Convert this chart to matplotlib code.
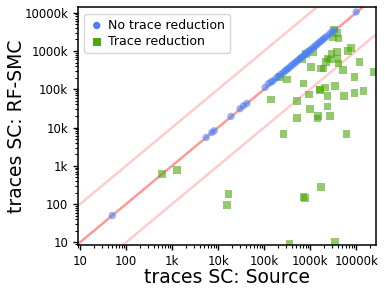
import numpy as np
import matplotlib
matplotlib.use("Agg")
import matplotlib.pyplot as plt
from matplotlib.ticker import FixedLocator, FuncFormatter, NullFormatter

# points where no reduction happened (source ~ rf-smc)
blue_x = [50, 5500, 7300, 8200, 19000, 30000, 35500, 42100, 105000, 124000,
          142000, 154500, 182000, 204600, 230700, 259000, 286000, 308000,
          337500, 367000, 400000, 437700, 472000, 514000, 557000, 606000,
          660000, 715000, 778000, 847000, 905000, 975000, 1051000, 1180000,
          1285000, 1384000, 1515000, 1648000, 1795000, 1945000, 2118000,
          2342000, 2723000, 3010000, 3325000, 10000000]
blue_y = [50, 5500, 7400, 8200, 19500, 31000, 36900, 42600, 112000, 140000,
          155000, 165000, 195000, 215000, 245000, 270000, 300000, 325000,
          350000, 385000, 420000, 460000, 495000, 540000, 585000, 640000,
          690000, 750000, 820000, 890000, 950000, 1030000, 1100000, 1240000,
          1350000, 1450000, 1600000, 1730000, 1890000, 2050000, 2230000,
          2460000, 2870000, 3170000, 3500000, 10500000]

# points with trace reduction
green_x = [610, 1260, 16900, 15500, 715000, 780000, 1700000, 355000, 3500000,
           142000, 514000, 951000, 1625000, 2377000, 5400000, 9190000, 14400000,
           1000000, 2377000, 514000, 1470000, 1442000, 2680000, 263000, 6150000,
           3330000, 3805000, 3110000, 4120000, 7780000, 6700000, 3800000,
           2905000, 2377000, 2630000, 2190000, 3800000, 11800000, 1180000,
           806000, 660000, 1035000, 1710000, 1945000, 5140000, 23800000,
           9190000, 223000, 311000, 715000, 3490000, 2118000, 1650000, 4120000]
green_y = [607, 773, 182, 94, 150, 144, 283, 9.4, 10.2,
           54200, 48900, 73100, 94900, 67300, 67300, 80600, 89100,
           30800, 35600, 17900, 20200, 17300, 20200, 6730, 6730,
           3640000, 2917000, 2250000, 2120000, 1205000, 988000, 931000,
           825000, 637000, 600000, 519000, 611000, 519000, 949000,
           825000, 600000, 384000, 349000, 349000, 315000, 285000,
           211000, 211000, 180000, 142000, 123000, 111000, 98800, 471000]

major_ticks = [10, 100, 1e3, 1e4, 1e5, 1e6, 1e7]

blue = '#4a80f7'
green = '#4ca80c'


def kfmt(v, pos):
    if v >= 1000:
        return '%dk' % round(v / 1000)
    return '%d' % round(v)


fig = plt.figure(figsize=(3.85, 2.94), dpi=100)
ax = fig.add_axes([0.2026, 0.1667, 0.774, 0.8078])

line = np.array([1, 1e9])
ax.plot(line, line, color='#ff5555', alpha=0.6, lw=1.8, zorder=1)
ax.plot(line, line * 10, color='#ff8080', alpha=0.4, lw=1.8, zorder=1)
ax.plot(line, line / 10, color='#ff8080', alpha=0.4, lw=1.8, zorder=1)

ax.scatter(blue_x, blue_y, s=28, marker='o', color=blue, alpha=0.6,
           edgecolors='none', label='No trace reduction', zorder=3)
ax.scatter(green_x, green_y, s=30, marker='s', color=green, alpha=0.6,
           edgecolors='none', label='Trace reduction', zorder=2)

ax.set_xscale('log')
ax.set_yscale('log')
xlim = (9, 2.7e7)
ylim = (8.5, 1.37e7)
ax.set_xlim(*xlim)
ax.set_ylim(*ylim)

minors = [m * 10.0 ** e for e in range(0, 8) for m in range(2, 10)]
for a, lim in ((ax.xaxis, xlim), (ax.yaxis, ylim)):
    a.set_major_locator(FixedLocator(major_ticks))
    a.set_minor_locator(FixedLocator([m for m in minors if lim[0] <= m <= lim[1]]))
    a.set_major_formatter(FuncFormatter(kfmt))
    a.set_minor_formatter(NullFormatter())

ax.tick_params(axis='both', which='major', labelsize=8.5, length=3.5, width=1)
ax.tick_params(axis='both', which='minor', length=2, width=0.8)
for s in ax.spines.values():
    s.set_linewidth(1.1)

ax.set_xlabel('traces SC: Source', fontsize=13.5, labelpad=0)
ax.set_ylabel('traces SC: RF-SMC', fontsize=13.5, labelpad=-1)

leg = ax.legend(loc='upper left', fontsize=9, handletextpad=0.3,
                borderpad=0.4, labelspacing=0.3, handlelength=1.2)
for h in leg.legend_handles:
    h.set_alpha(1)

fig.savefig('out.png', dpi=100)
